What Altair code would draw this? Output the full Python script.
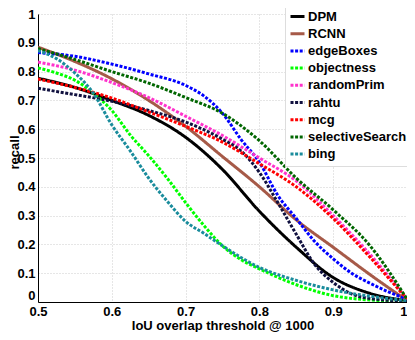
import altair as alt
import pandas as pd

series_names = ["DPM", "RCNN", "edgeBoxes", "objectness", "randomPrim",
                "rahtu", "mcg", "selectiveSearch", "bing"]
series_colors = ["#000000", "#a65a48", "#0000ff", "#00ff00", "#ff33cc",
                 "#10103f", "#ff0000", "#006600", "#1a8c9c"]
series_dash = [[1, 0], [1, 0], [3, 1.6], [3, 1.6], [3, 1.6], [3, 1.6], [3, 1.6], [3, 1.6], [3, 1.6]]

x_common = [0.5, 0.55, 0.6, 0.65, 0.7, 0.75, 0.8, 0.85, 0.9, 0.95, 1.0]

dpm_x = x_common
dpm_y = [0.777, 0.745, 0.70, 0.648, 0.572, 0.46, 0.315, 0.19, 0.085, 0.03, 0.005]

rcnn_x = x_common
rcnn_y = [0.885, 0.835, 0.775, 0.70, 0.61, 0.505, 0.40, 0.285, 0.19, 0.095, 0.005]

edge_x = [0.5, 0.55, 0.6, 0.65, 0.7, 0.725, 0.75, 0.775, 0.8, 0.825, 0.85,
          0.875, 0.9, 0.925, 0.95, 0.975, 1.0]
edge_y = [0.866, 0.853, 0.826, 0.792, 0.752, 0.715, 0.655, 0.565, 0.485, 0.37,
          0.29, 0.21, 0.15, 0.10, 0.065, 0.035, 0.01]

obj_x = [0.5, 0.525, 0.55, 0.575, 0.6, 0.625, 0.65, 0.675, 0.7, 0.725, 0.75,
         0.775, 0.8, 0.85, 0.9, 0.95, 1.0]
obj_y = [0.813, 0.795, 0.77, 0.725, 0.665, 0.58, 0.508, 0.43, 0.345, 0.265,
         0.195, 0.147, 0.115, 0.06, 0.022, 0.007, 0.002]

rp_x = x_common
rp_y = [0.833, 0.805, 0.762, 0.71, 0.645, 0.578, 0.50, 0.42, 0.30, 0.165, 0.01]

rahtu_x = [0.5, 0.55, 0.6, 0.65, 0.7, 0.75, 0.775, 0.8, 0.825, 0.85, 0.875,
           0.9, 0.925, 0.95, 1.0]
rahtu_y = [0.742, 0.72, 0.697, 0.665, 0.625, 0.565, 0.525, 0.45, 0.345, 0.235,
           0.13, 0.068, 0.028, 0.012, 0.003]

mcg_x = x_common
mcg_y = [0.774, 0.745, 0.708, 0.66, 0.61, 0.555, 0.48, 0.40, 0.29, 0.155, 0.01]

ss_x = x_common
ss_y = [0.88, 0.842, 0.80, 0.76, 0.71, 0.655, 0.56, 0.43, 0.32, 0.195, 0.01]

bing_x = [0.5, 0.525, 0.55, 0.575, 0.6, 0.625, 0.65, 0.675, 0.7, 0.725, 0.75,
          0.8, 0.85, 0.9, 0.95, 1.0]
bing_y = [0.873, 0.845, 0.795, 0.725, 0.615, 0.525, 0.43, 0.35, 0.28, 0.238,
          0.195, 0.12, 0.075, 0.042, 0.02, 0.005]

x_ticks = [0.5, 0.6, 0.7, 0.8, 0.9, 1.0]
y_ticks = [0, 0.1, 0.2, 0.3, 0.4, 0.5, 0.6, 0.7, 0.8, 0.9, 1.0]

all_series = [(dpm_x, dpm_y), (rcnn_x, rcnn_y), (edge_x, edge_y), (obj_x, obj_y),
              (rp_x, rp_y), (rahtu_x, rahtu_y), (mcg_x, mcg_y), (ss_x, ss_y),
              (bing_x, bing_y)]

rows = []
for i, (name, (xs, ys)) in enumerate(zip(series_names, all_series)):
    for j, (xv, yv) in enumerate(zip(xs, ys)):
        rows.append({"method": name, "order": i, "iou": xv, "recall": yv, "idx": j})
df = pd.DataFrame(rows)

FONT = "Liberation Sans"

legend_cfg = alt.Legend(title=None, orient="none", legendX=247, legendY=-10)

chart = alt.Chart(df).mark_line(strokeWidth=3, interpolate="monotone", clip=True).encode(
    x=alt.X("iou:Q",
            scale=alt.Scale(domain=[0.5, 1.0], nice=False, zero=False),
            axis=alt.Axis(values=x_ticks, format="~g", title="IoU overlap threshold @ 1000",
                          labelFlush=False, labelPadding=3,
                          labelAlign={"condition": {"test": "datum.value == 1", "value": "right"},
                                      "value": "center"},
                          titleY=23, titleBaseline="middle")),
    y=alt.Y("recall:Q",
            scale=alt.Scale(domain=[0, 1], nice=False),
            axis=alt.Axis(values=y_ticks, format="~g", title="recall", labelFlush=False,
                          labelBaseline={"condition": {"test": "datum.value == 0", "value": "bottom"},
                                         "value": "middle"},
                          titleX=-24, titleY=138, titleAngle=270,
                          titleAlign="center", titleBaseline="middle")),
    color=alt.Color("method:N",
                    scale=alt.Scale(domain=series_names, range=series_colors),
                    sort=series_names, legend=legend_cfg),
    strokeDash=alt.StrokeDash("method:N",
                              scale=alt.Scale(domain=series_names, range=series_dash),
                              sort=series_names, legend=legend_cfg),
    order=alt.Order("idx:Q"),
).properties(
    width=369,
    height=288,
    autosize=alt.AutoSizeParams(type="none"),
    padding={"left": 30, "top": 6, "right": 0, "bottom": 30},
).configure_view(
    strokeWidth=0
).configure_axis(
    labelFont=FONT, labelFontSize=13, labelFontWeight="bold", labelColor="#000000",
    titleFont=FONT, titleFontSize=13, titleFontWeight="bold", titleColor="#000000",
    labelPadding=3, ticks=False,
    domainColor="#000000", domainWidth=1,
    gridColor="#cccccc", gridDash=[1, 2], gridWidth=1,
).configure_legend(
    labelFont=FONT, labelFontSize=13, labelFontWeight="bold", labelColor="#000000",
    symbolType="stroke", symbolSize=196, symbolStrokeWidth=3,
    fillColor="#ffffff", strokeColor="#dddddd", padding=4, rowPadding=1.2,
    labelOffset=2,
)

chart.save("out.html", embed_options={"renderer": "svg", "actions": False})
